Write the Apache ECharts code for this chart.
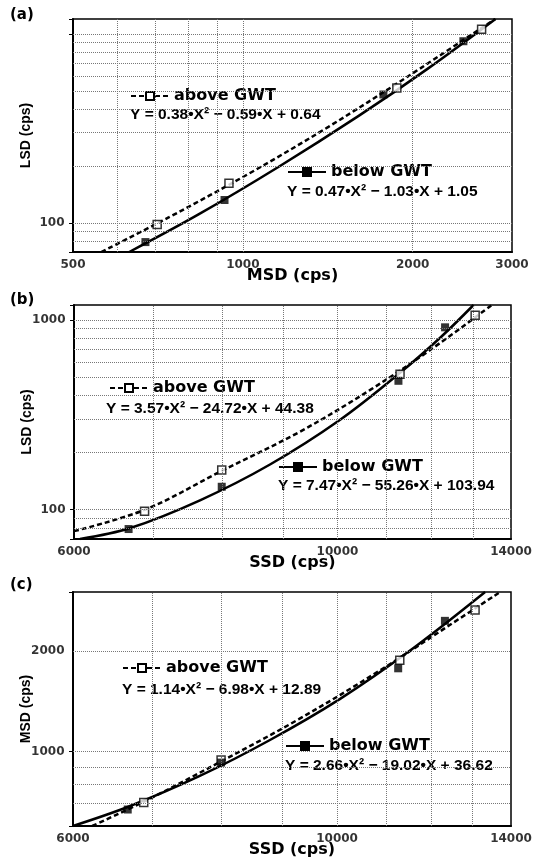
<!DOCTYPE html>
<html><head><meta charset="utf-8">
<script src="https://cdn.jsdelivr.net/npm/echarts@6/dist/echarts.min.js"></script>
<style>html,body{margin:0;padding:0;background:#fff}#c{width:539px;height:861px}</style>
</head><body><div id="c"></div>
<script>
// ---- measured points ----
const aboveSSD = [6880, 7990, 11290, 13060];
const aboveMSD = [705, 945, 1875, 2650];
const aboveLSD = [98, 162, 518, 1060];
const belowSSD = [6670, 7990, 11255, 12320];
const belowMSD = [672, 928, 1775, 2460];
const belowLSD = [79, 132, 478, 915];

// ---- fitted curves ----
const fitA_above_msd = [561, 740, 1025, 1418, 1952, 2800];
const fitA_above_lsd = [70, 107, 182, 322, 590, 1200];
const fitA_below_msd = [629, 836, 1158, 1602, 2128, 2805];
const fitA_below_lsd = [70, 111, 198, 367, 655, 1200];
const fitB_above_ssd = [6000, 6887, 7990, 9302, 10655, 11970, 13490];
const fitB_above_lsd = [77, 100, 160, 258, 428, 695, 1200];
const fitB_below_ssd = [6070, 6692, 7660, 8774, 10052, 11290, 12210, 13020];
const fitB_below_lsd = [70, 80, 112, 173, 298, 527, 809, 1200];
const fitC_above_ssd = [6228, 6955, 7965, 9302, 10864, 12445, 13710];
const fitC_above_msd = [600, 723, 930, 1255, 1749, 2395, 3000];
const fitC_below_ssd = [6000, 6685, 7660, 8775, 10052, 11510, 13316];
const fitC_below_msd = [600, 686, 845, 1082, 1436, 2002, 3000];

// ---- axes: ranges, tick labels, grid lines ----
const rangeA_x = [500, 3000], rangeA_y = [70, 1200];
const rangeB_x = [6000, 14000], rangeB_y = [70, 1200];
const rangeC_x = [6000, 14000], rangeC_y = [600, 3000];
const ticksA_x = [500, 1000, 2000, 3000], ticksA_y = [100];
const ticksB_x = [6000, 10000, 14000], ticksB_y = [100, 1000];
const ticksC_x = [6000, 10000, 14000], ticksC_y = [1000, 2000];
const gridA_x = [600, 700, 800, 900, 1000, 2000];
const gridA_y = [80, 90, 100, 200, 300, 400, 500, 600, 700, 800, 900, 1000];
const gridB_x = [7000, 8000, 9000, 10000, 11000, 12000, 13000];
const gridB_y = [80, 90, 100, 200, 300, 400, 500, 600, 700, 800, 900, 1000];
const gridC_x = [7000, 8000, 9000, 10000, 11000, 12000, 13000];
const gridC_y = [700, 800, 900, 1000, 2000];

const eqA_above = 'Y = 0.38\u2022X\u00b2 \u2212 0.59\u2022X + 0.64';
const eqA_below = 'Y = 0.47\u2022X\u00b2 \u2212 1.03\u2022X + 1.05';
const eqB_above = 'Y = 3.57\u2022X\u00b2 \u2212 24.72\u2022X + 44.38';
const eqB_below = 'Y = 7.47\u2022X\u00b2 \u2212 55.26\u2022X + 103.94';
const eqC_above = 'Y = 1.14\u2022X\u00b2 \u2212 6.98\u2022X + 12.89';
const eqC_below = 'Y = 2.66\u2022X\u00b2 \u2212 19.02\u2022X + 36.62';

const zip = (a, b) => a.map((v, i) => [v, b[i]]);
const F = 'DejaVu Sans';
const FL = 'Liberation Sans';

const grids = [
  {left: 73, top: 19, width: 439, height: 233},
  {left: 74, top: 305, width: 437, height: 234},
  {left: 73, top: 592, width: 438, height: 234}
];
const panels = [
  {xr: rangeA_x, yr: rangeA_y, tx: ticksA_x, ty: ticksA_y, gx: gridA_x, gy: gridA_y, xn: 'MSD (cps)', yn: 'LSD (cps)',
   up: zip(fitA_above_msd, fitA_above_lsd), lo: zip(fitA_below_msd, fitA_below_lsd),
   pu: zip(aboveMSD, aboveLSD), pl: zip(belowMSD, belowLSD)},
  {xr: rangeB_x, yr: rangeB_y, tx: ticksB_x, ty: ticksB_y, gx: gridB_x, gy: gridB_y, xn: 'SSD (cps)', yn: 'LSD (cps)',
   up: zip(fitB_above_ssd, fitB_above_lsd), lo: zip(fitB_below_ssd, fitB_below_lsd),
   pu: zip(aboveSSD, aboveLSD), pl: zip(belowSSD, belowLSD)},
  {xr: rangeC_x, yr: rangeC_y, tx: ticksC_x, ty: ticksC_y, gx: gridC_x, gy: gridC_y, xn: 'SSD (cps)', yn: 'MSD (cps)',
   up: zip(fitC_above_ssd, fitC_above_msd), lo: zip(fitC_below_ssd, fitC_below_msd),
   pu: zip(aboveSSD, aboveMSD), pl: zip(belowSSD, belowMSD)}
];

const xAxis = [], yAxis = [], series = [];
panels.forEach((p, i) => {
  xAxis.push({type: 'log', logBase: 10, gridIndex: i, min: p.xr[0], max: p.xr[1],
    name: p.xn, nameLocation: 'middle', nameGap: 16,
    nameTextStyle: {fontFamily: F, fontWeight: 'bold', fontSize: 16, color: '#000'},
    axisLine: {show: true, onZero: false, lineStyle: {color: '#000', width: 2}},
    axisTick: {show: false}, axisLabel: {show: false}, splitLine: {show: false}, minorTick: {show: false}});
  yAxis.push({type: 'log', logBase: 10, gridIndex: i, min: p.yr[0], max: p.yr[1],
    name: p.yn, nameLocation: 'middle', nameGap: 40, nameRotate: 90,
    nameTextStyle: {fontFamily: FL, fontWeight: 'bold', fontSize: 14, color: '#000'},
    axisLine: {show: true, onZero: false, lineStyle: {color: '#000', width: 2}},
    axisTick: {show: true, length: 4, lineStyle: {color: '#000'}}, axisLabel: {show: false}, splitLine: {show: false}});
  // grid lines + tick labels
  const gl = {type: 'dotted', color: '#777', width: 1};
  series.push({type: 'scatter', xAxisIndex: i, yAxisIndex: i, silent: true, clip: false, z: 1,
    symbolSize: 1, itemStyle: {color: 'rgba(0,0,0,0)'},
    data: p.tx.map(v => ({value: [v, p.yr[0]], label: {position: 'bottom', distance: 6}}))
      .concat(p.ty.map(v => ({value: [p.xr[0], v], label: {position: 'left', distance: 8}}))),
    label: {show: true, fontFamily: F, fontWeight: 'bold', fontSize: 12, color: '#000',
      formatter: (d) => String(d.data.label.position === 'bottom' ? d.value[0] : d.value[1])},
    markLine: {silent: true, symbol: ['none', 'none'], label: {show: false}, animation: false,
      lineStyle: gl, emphasis: {disabled: true},
      data: p.gx.map(v => ({xAxis: v})).concat(p.gy.map(v => ({yAxis: v})))}
  });
  series.push({type: 'line', name: 'above GWT', xAxisIndex: i, yAxisIndex: i, data: p.up,
    smooth: 0.35, showSymbol: false, symbol: 'rect', symbolSize: 8, silent: true, z: 3,
    lineStyle: {color: '#000', width: 2.5, type: [5, 3]},
    itemStyle: {color: '#fff', borderColor: '#000', borderWidth: 1.5}});
  series.push({type: 'line', name: 'below GWT', xAxisIndex: i, yAxisIndex: i, data: p.lo,
    smooth: 0.35, showSymbol: false, symbol: 'rect', symbolSize: 8, silent: true, z: 3,
    lineStyle: {color: '#000', width: 2.5, type: 'solid'},
    itemStyle: {color: '#000', borderColor: '#000', borderWidth: 1}});
  series.push({type: 'scatter', name: 'above pts', xAxisIndex: i, yAxisIndex: i, data: p.pu, z: 4,
    symbol: 'rect', symbolSize: 8, itemStyle: {color: '#fff', borderColor: '#000', borderWidth: 1.5}});
  series.push({type: 'scatter', name: 'below pts', xAxisIndex: i, yAxisIndex: i, data: p.pl, z: 4,
    symbol: 'rect', symbolSize: 8, itemStyle: {color: '#000'}});
});

const legendBase = {orient: 'horizontal', itemWidth: 38, itemHeight: 10, padding: 0, selectedMode: false,
  textStyle: {fontFamily: F, fontWeight: 'bold', fontSize: 16, color: '#000'}};
const legends = [
  {data: ['above GWT'], left: 130, top: 88}, {data: ['below GWT'], left: 287, top: 164},
  {data: ['above GWT'], left: 109, top: 380}, {data: ['below GWT'], left: 278, top: 459},
  {data: ['above GWT'], left: 122, top: 660}, {data: ['below GWT'], left: 285, top: 738}
].map(l => Object.assign({}, legendBase, l));

const eqs = [
  [eqA_above, 130, 116], [eqA_below, 287, 193],
  [eqB_above, 106, 410], [eqB_below, 278, 487],
  [eqC_above, 122, 691], [eqC_below, 285, 767]
];
const graphic = eqs.map(e => ({type: 'text', left: e[1], top: e[2] - 9, silent: true,
  style: {text: e[0], font: 'bold 15.5px "Liberation Sans"', fill: '#000'}}));

const titles = [['(a)', 8], ['(b)', 293], ['(c)', 578]].map(t => ({text: t[0], left: 10, top: t[1], padding: 0,
  textStyle: {fontFamily: F, fontWeight: 'bold', fontSize: 15, color: '#000'}}));

const chart = echarts.init(document.getElementById('c'), null, {renderer: 'canvas'});
chart.setOption({
  animation: false, backgroundColor: '#fff',
  title: titles,
  grid: grids.map(g => Object.assign({show: true, borderColor: '#000', borderWidth: 1.5, backgroundColor: 'transparent'}, g)),
  xAxis, yAxis, series, legend: legends, graphic
});
</script></body></html>
